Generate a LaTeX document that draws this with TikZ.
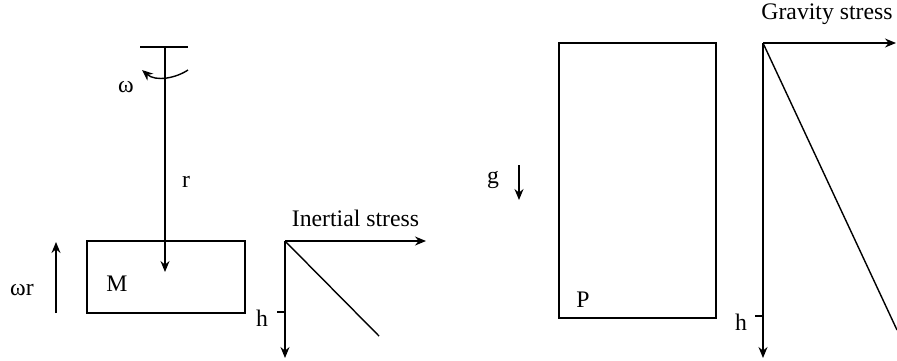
\documentclass[tikz,border=0pt]{standalone}
\usepackage{fontspec}
\setmainfont{Liberation Serif}
\usepackage{tikz}
\usetikzlibrary{arrows.meta,positioning,calc}
\tikzset{
  lbl/.style={inner sep=0pt,font=\fontsize{13.5}{16}\selectfont},
  body/.style={draw,line width=0.8pt,inner sep=0pt},
  axis/.style={-{Stealth[length=2.2mm,width=1.8mm]},line width=0.8pt}
}

\begin{document}
\begin{tikzpicture}[x=0.02cm,y=-0.02cm,line width=0.8pt]
\useasboundingbox (0,0) rectangle (897,360);
\node[body,minimum width=3.16cm,minimum height=1.44cm] (boxM) at (166,277) {};
\node[lbl] (M) at (117,284) {M};
\coordinate (barL) at (140,47);
\coordinate (barR) at (188,47);
\coordinate (pivot) at (165,47);
\coordinate (rend) at (165,272);
\draw (barL) -- (barR);
\draw[axis] (pivot) -- (rend);
\node[lbl] (r) at (186,182) {r};
\coordinate (spinA) at (188,70);
\coordinate (spinB) at (142,70);
\draw[axis] (spinA) .. controls (176,78) and (156,82) .. (spinB);
\node[lbl] (w) at (126,87) {ω};
\coordinate (wrA) at (56,313);
\coordinate (wrB) at (56,242);
\draw[axis] (wrA) -- (wrB);
\node[lbl] (wr) at (22,290) {ωr};
\coordinate (O1) at (285,241);
\coordinate (x1) at (426,241);
\coordinate (y1) at (285,358);
\coordinate (d1) at (379,336);
\draw[axis] (O1) -- (x1);
\draw[axis] (O1) -- (y1);
\draw (O1) -- (d1);
\node[lbl,above=8pt of $(O1)!0.5!(x1)$] (inert) {Inertial stress};
\coordinate (t1) at (277,312);
\draw (t1) -- (285,312);
\node[lbl] (h1) at (262,318) {h};
\node[body,minimum width=3.14cm,minimum height=5.5cm] (boxP) at (637.5,180.5) {};
\node[lbl] (P) at (583,300) {P};
\coordinate (gA) at (519,165);
\coordinate (gB) at (519,200);
\draw[axis] (gA) -- (gB);
\node[lbl] (g) at (493,180) {g};
\coordinate (O2) at (763,43);
\coordinate (x2) at (896,43);
\coordinate (y2) at (763,358);
\coordinate (d2) at (897,330);
\draw[axis] (O2) -- (x2);
\draw[axis] (O2) -- (y2);
\draw (O2) -- (d2);
\node[lbl] (grav) at (827,14) {Gravity stress};
\coordinate (t2) at (755,316);
\draw (t2) -- (763,316);
\node[lbl] (h2) at (741,322) {h};
\end{tikzpicture}
\end{document}
